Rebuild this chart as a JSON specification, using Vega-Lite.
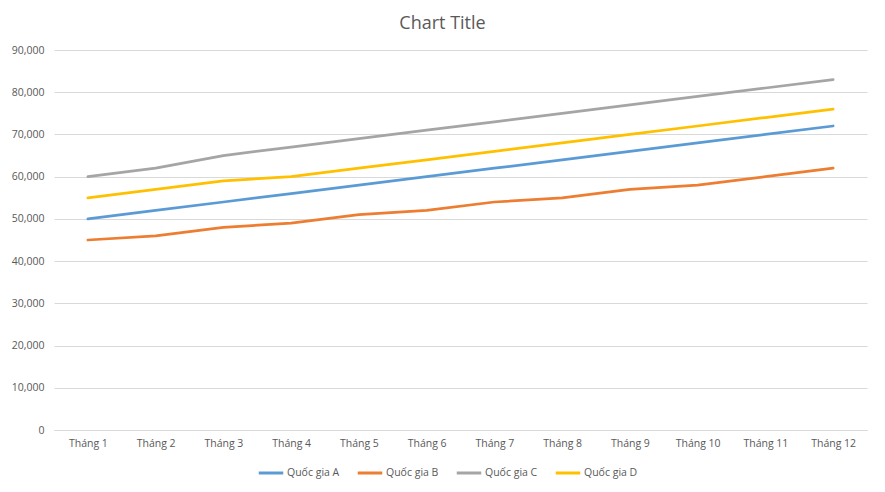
{
  "$schema": "https://vega.github.io/schema/vega-lite/v6.json",
  "width": 813,
  "height": 380,
  "autosize": {"type": "none"},
  "padding": {"left": 54, "top": 50, "right": 18, "bottom": 62},
  "background": "white",
  "title": {
    "text": "Chart Title",
    "fontSize": 18,
    "font": "Open Sans",
    "fontWeight": "normal",
    "color": "#595959",
    "anchor": "middle",
    "dx": -18,
    "offset": 12
  },
  "config": {
    "view": {"stroke": null},
    "font": "Open Sans"
  },
  "data": {
    "values": [
      {"month": "Tháng 1", "country": "Quốc gia A", "value": 50000},
      {"month": "Tháng 2", "country": "Quốc gia A", "value": 52000},
      {"month": "Tháng 3", "country": "Quốc gia A", "value": 54000},
      {"month": "Tháng 4", "country": "Quốc gia A", "value": 56000},
      {"month": "Tháng 5", "country": "Quốc gia A", "value": 58000},
      {"month": "Tháng 6", "country": "Quốc gia A", "value": 60000},
      {"month": "Tháng 7", "country": "Quốc gia A", "value": 62000},
      {"month": "Tháng 8", "country": "Quốc gia A", "value": 64000},
      {"month": "Tháng 9", "country": "Quốc gia A", "value": 66000},
      {"month": "Tháng 10", "country": "Quốc gia A", "value": 68000},
      {"month": "Tháng 11", "country": "Quốc gia A", "value": 70000},
      {"month": "Tháng 12", "country": "Quốc gia A", "value": 72000},
      {"month": "Tháng 1", "country": "Quốc gia B", "value": 45000},
      {"month": "Tháng 2", "country": "Quốc gia B", "value": 46000},
      {"month": "Tháng 3", "country": "Quốc gia B", "value": 48000},
      {"month": "Tháng 4", "country": "Quốc gia B", "value": 49000},
      {"month": "Tháng 5", "country": "Quốc gia B", "value": 51000},
      {"month": "Tháng 6", "country": "Quốc gia B", "value": 52000},
      {"month": "Tháng 7", "country": "Quốc gia B", "value": 54000},
      {"month": "Tháng 8", "country": "Quốc gia B", "value": 55000},
      {"month": "Tháng 9", "country": "Quốc gia B", "value": 57000},
      {"month": "Tháng 10", "country": "Quốc gia B", "value": 58000},
      {"month": "Tháng 11", "country": "Quốc gia B", "value": 60000},
      {"month": "Tháng 12", "country": "Quốc gia B", "value": 62000},
      {"month": "Tháng 1", "country": "Quốc gia C", "value": 60000},
      {"month": "Tháng 2", "country": "Quốc gia C", "value": 62000},
      {"month": "Tháng 3", "country": "Quốc gia C", "value": 65000},
      {"month": "Tháng 4", "country": "Quốc gia C", "value": 67000},
      {"month": "Tháng 5", "country": "Quốc gia C", "value": 69000},
      {"month": "Tháng 6", "country": "Quốc gia C", "value": 71000},
      {"month": "Tháng 7", "country": "Quốc gia C", "value": 73000},
      {"month": "Tháng 8", "country": "Quốc gia C", "value": 75000},
      {"month": "Tháng 9", "country": "Quốc gia C", "value": 77000},
      {"month": "Tháng 10", "country": "Quốc gia C", "value": 79000},
      {"month": "Tháng 11", "country": "Quốc gia C", "value": 81000},
      {"month": "Tháng 12", "country": "Quốc gia C", "value": 83000},
      {"month": "Tháng 1", "country": "Quốc gia D", "value": 55000},
      {"month": "Tháng 2", "country": "Quốc gia D", "value": 57000},
      {"month": "Tháng 3", "country": "Quốc gia D", "value": 59000},
      {"month": "Tháng 4", "country": "Quốc gia D", "value": 60000},
      {"month": "Tháng 5", "country": "Quốc gia D", "value": 62000},
      {"month": "Tháng 6", "country": "Quốc gia D", "value": 64000},
      {"month": "Tháng 7", "country": "Quốc gia D", "value": 66000},
      {"month": "Tháng 8", "country": "Quốc gia D", "value": 68000},
      {"month": "Tháng 9", "country": "Quốc gia D", "value": 70000},
      {"month": "Tháng 10", "country": "Quốc gia D", "value": 72000},
      {"month": "Tháng 11", "country": "Quốc gia D", "value": 74000},
      {"month": "Tháng 12", "country": "Quốc gia D", "value": 76000}
    ]
  },
  "mark": {"type": "line", "strokeWidth": 2.75, "strokeCap": "round", "strokeJoin": "round"},
  "encoding": {
    "x": {
      "field": "month",
      "type": "ordinal",
      "sort": null,
      "scale": {"type": "point", "padding": 0.5},
      "axis": {
        "title": null,
        "labelAngle": 0,
        "labelFontSize": 10.5,
        "labelColor": "#595959",
        "labelPadding": 8,
        "ticks": false,
        "domainColor": "#D9D9D9",
        "grid": false
      }
    },
    "y": {
      "field": "value",
      "type": "quantitative",
      "scale": {"domain": [0, 90000], "nice": false},
      "axis": {
        "title": null,
        "values": [0, 10000, 20000, 30000, 40000, 50000, 60000, 70000, 80000, 90000],
        "format": ",.0f",
        "labelFontSize": 10.5,
        "labelColor": "#595959",
        "labelPadding": 10,
        "ticks": false,
        "domain": false,
        "gridColor": "#D9D9D9"
      }
    },
    "color": {
      "field": "country",
      "type": "nominal",
      "scale": {
        "domain": ["Quốc gia A", "Quốc gia B", "Quốc gia C", "Quốc gia D"],
        "range": ["#5B9BD5", "#ED7D31", "#A5A5A5", "#FFC000"]
      },
      "legend": {
        "title": null,
        "orient": "none",
        "legendX": 203,
        "legendY": 409,
        "direction": "horizontal",
        "symbolType": "stroke",
        "symbolSize": 600,
        "symbolStrokeWidth": 3,
        "labelFontSize": 10.5,
        "labelColor": "#595959",
        "labelOffset": 2,
        "columnPadding": 11
      }
    }
  }
}
